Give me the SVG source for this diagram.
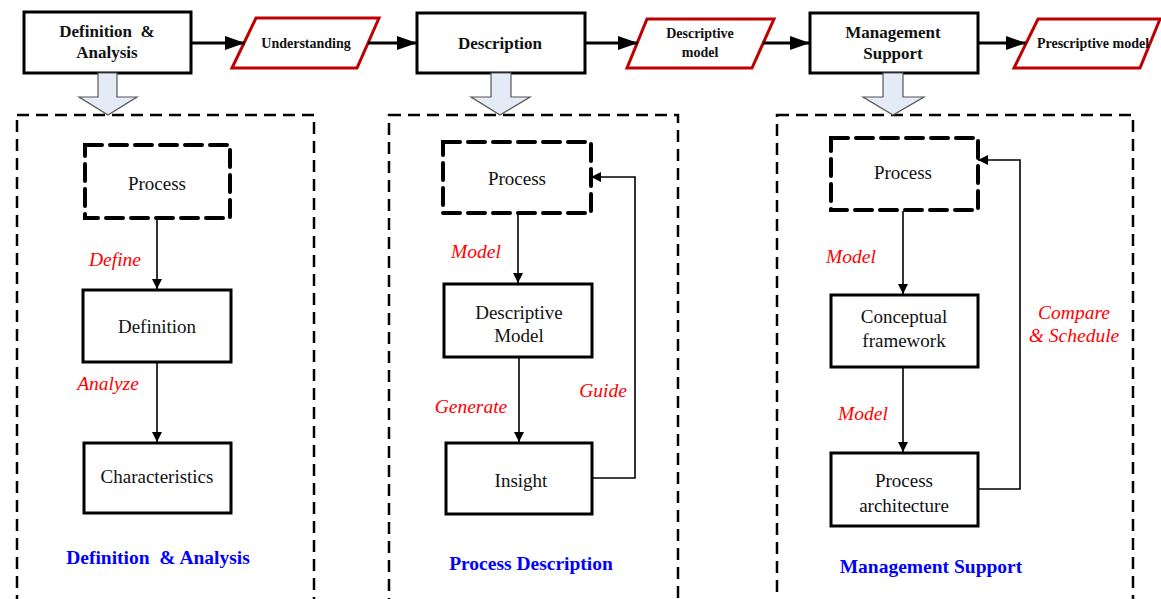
<svg xmlns="http://www.w3.org/2000/svg" width="1161" height="599" viewBox="0 0 1161 599">
<defs>
<marker id="bigArrow" markerUnits="userSpaceOnUse" markerWidth="20" markerHeight="14" refX="20" refY="7" orient="auto">
<path d="M0,0 L20,7 L0,14 z" fill="#000"/>
</marker>
<marker id="smallArrow" markerUnits="userSpaceOnUse" markerWidth="10" markerHeight="10" refX="10" refY="5" orient="auto">
<path d="M0,0 L10,5 L0,10 z" fill="#000"/>
</marker>
</defs>
<style>
.topbox{fill:#fff;stroke:#000;stroke-width:3}
.para{fill:#fff;stroke:#c00000;stroke-width:3}
.toptxt{font-family:"Liberation Serif",serif;font-weight:bold;font-size:17px;text-anchor:middle;fill:#111}
.paratxt{font-family:"Liberation Serif",serif;font-weight:bold;font-size:14px;text-anchor:middle;fill:#111}
.hollow{fill:#e4ebf6;stroke:#555;stroke-width:1.2}
.panel{fill:none;stroke:#000;stroke-width:2.5;stroke-dasharray:12 7}
.proc{fill:#fff;stroke:#000;stroke-width:4;stroke-dasharray:17 8;stroke-linecap:round}
.box{fill:#fff;stroke:#000;stroke-width:3}
.ntxt{font-family:"Liberation Serif",serif;font-size:19px;text-anchor:middle;fill:#111}
.lbl{font-family:"Liberation Serif",serif;font-style:italic;font-size:19.5px;text-anchor:middle;fill:#ff0000}
.title{font-family:"Liberation Serif",serif;font-weight:bold;font-size:19.5px;text-anchor:middle;fill:#0000ff}
.bigc{fill:none;stroke:#000;stroke-width:3;marker-end:url(#bigArrow)}
.smc{fill:none;stroke:#000;stroke-width:1.6;marker-end:url(#smallArrow)}
</style>

<!-- panels -->
<g id="panel-definition">
<rect class="panel" x="17" y="115" width="297" height="500"/>
<text class="title" x="158" y="564" xml:space="preserve">Definition  &amp; Analysis</text>
</g>
<g id="panel-description">
<rect class="panel" x="389" y="115" width="289" height="500"/>
<text class="title" x="531" y="570">Process Description</text>
</g>
<g id="panel-management">
<rect class="panel" x="777" y="115" width="356" height="500"/>
<text class="title" x="931" y="573">Management Support</text>
</g>

<!-- top row nodes -->
<g id="top-definition">
<rect class="topbox" x="24" y="12" width="167" height="61"/>
<text class="toptxt" x="107" y="37" xml:space="preserve">Definition  &amp;</text>
<text class="toptxt" x="107" y="58">Analysis</text>
</g>
<g id="top-understanding">
<polygon class="para" points="256,18 379,18 357,68 232,68"/>
<text class="paratxt" x="306" y="48">Understanding</text>
</g>
<g id="top-description">
<rect class="topbox" x="417" y="13" width="168" height="60"/>
<text class="toptxt" x="500" y="49">Description</text>
</g>
<g id="top-descriptive-model">
<polygon class="para" points="647,19 774,19 752,68 627,68"/>
<text class="paratxt" x="700" y="38">Descriptive</text>
<text class="paratxt" x="700" y="57">model</text>
</g>
<g id="top-management">
<rect class="topbox" x="810" y="13" width="168" height="60"/>
<text class="toptxt" x="893" y="38">Management</text>
<text class="toptxt" x="893" y="59">Support</text>
</g>
<g id="top-prescriptive-model">
<polygon class="para" points="1038,19 1160,19 1140,68 1014,68"/>
<text class="paratxt" x="1093" y="48">Prescriptive model</text>
</g>

<!-- hollow arrows -->
<g id="hollow-arrows">
<polygon class="hollow" points="98,73 117,73 117,97 137,97 108,115 79,97 98,97"/>
<polygon class="hollow" points="491,73 511,73 511,97 530,97 500,115 471,97 491,97"/>
<polygon class="hollow" points="883,73 903,73 903,97 924,97 893,115 863,97 883,97"/>
</g>

<!-- panel 1 nodes -->
<g id="p1-process">
<rect class="proc" x="85" y="145" width="145" height="73"/>
<text class="ntxt" x="157" y="190">Process</text>
</g>
<g id="p1-definition">
<rect class="box" x="83" y="290" width="148" height="72"/>
<text class="ntxt" x="157" y="333">Definition</text>
</g>
<g id="p1-characteristics">
<rect class="box" x="84" y="443" width="147" height="70"/>
<text class="ntxt" x="157" y="483">Characteristics</text>
</g>

<!-- panel 2 nodes -->
<g id="p2-process">
<rect class="proc" x="443" y="142" width="148" height="71"/>
<text class="ntxt" x="517" y="185">Process</text>
</g>
<g id="p2-descriptive-model">
<rect class="box" x="444" y="284" width="148" height="73"/>
<text class="ntxt" x="519" y="319">Descriptive</text>
<text class="ntxt" x="519" y="342">Model</text>
</g>
<g id="p2-insight">
<rect class="box" x="446" y="443" width="146" height="71"/>
<text class="ntxt" x="521" y="487">Insight</text>
</g>

<!-- panel 3 nodes -->
<g id="p3-process">
<rect class="proc" x="831" y="138" width="147" height="72"/>
<text class="ntxt" x="903" y="179">Process</text>
</g>
<g id="p3-conceptual">
<rect class="box" x="831" y="295" width="147" height="72"/>
<text class="ntxt" x="904" y="323">Conceptual</text>
<text class="ntxt" x="904" y="347">framework</text>
</g>
<g id="p3-architecture">
<rect class="box" x="831" y="453" width="147" height="73"/>
<text class="ntxt" x="904" y="487">Process</text>
<text class="ntxt" x="904" y="512">architecture</text>
</g>

<!-- connectors -->
<g id="connectors">
<line class="bigc" x1="191" y1="43" x2="245" y2="43"/>
<line class="bigc" x1="368" y1="43" x2="417" y2="43"/>
<line class="bigc" x1="585" y1="43" x2="638" y2="43"/>
<line class="bigc" x1="763" y1="43" x2="810" y2="43"/>
<line class="bigc" x1="978" y1="43" x2="1026" y2="43"/>

<line class="smc" x1="157" y1="219" x2="157" y2="289"/>
<line class="smc" x1="157" y1="362" x2="157" y2="442"/>

<line class="smc" x1="518" y1="214" x2="518" y2="283"/>
<line class="smc" x1="519" y1="357" x2="519" y2="442"/>
<polyline class="smc" points="592,478 635,478 635,177 591,177"/>

<line class="smc" x1="903" y1="211" x2="903" y2="294"/>
<line class="smc" x1="903" y1="367" x2="903" y2="452"/>
<polyline class="smc" points="978,489 1020,489 1020,160 978,160"/>
</g>

<!-- connector labels -->
<g id="labels">
<text class="lbl" x="115" y="266">Define</text>
<text class="lbl" x="108" y="390">Analyze</text>
<text class="lbl" x="476" y="258">Model</text>
<text class="lbl" x="471" y="413">Generate</text>
<text class="lbl" x="603" y="397">Guide</text>
<text class="lbl" x="851" y="263">Model</text>
<text class="lbl" x="1074" y="319">Compare</text>
<text class="lbl" x="1074" y="342">&amp; Schedule</text>
<text class="lbl" x="863" y="420">Model</text>
</g>
</svg>
